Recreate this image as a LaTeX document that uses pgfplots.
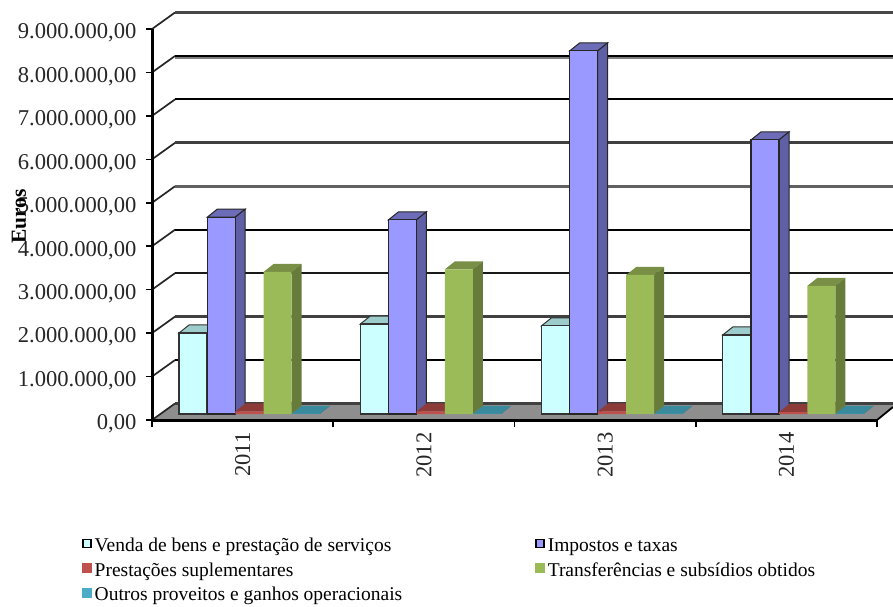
\documentclass[border=0pt]{standalone}
\usepackage{fontspec}
\setmainfont{Liberation Serif}
\usepackage{pgfplots}
\usepackage{pgfplotstable}
\pgfplotsset{compat=1.18}

\definecolor{vendaF}{HTML}{CCFFFF}\definecolor{vendaT}{HTML}{9CCCCC}\definecolor{vendaS}{HTML}{7FA6A6}
\definecolor{impF}{HTML}{9999FF}\definecolor{impT}{HTML}{6C6CB8}\definecolor{impS}{HTML}{5F5FA6}
\definecolor{presF}{HTML}{C0504D}\definecolor{presT}{HTML}{8C3B39}\definecolor{presS}{HTML}{7A3331}
\definecolor{trfF}{HTML}{9BBB59}\definecolor{trfT}{HTML}{788F45}\definecolor{trfS}{HTML}{677C3B}
\definecolor{outF}{HTML}{4BACC6}\definecolor{outT}{HTML}{3A8A9E}\definecolor{outS}{HTML}{2F7385}
\definecolor{piso}{HTML}{8E8E8E}

% one row per year, x is the group index
\pgfplotstableread{
x venda impostos prestacoes transferencias outros
0 1865000 4530000 60000 3270000 5000
1 2070000 4470000 60000 3330000 5000
2 2030000 8360000 60000 3200000 5000
3 1820000 6310000 45000 2950000 5000
}\dados

% depth of a bar: 10 px across, 8 px up
\newcommand\caixas[5]{% column, bar number, top colour, side colour, edge
  \pgfplotsforeachungrouped \g in {0,1,2,3}{%
    \pgfplotstablegetelem{\g}{#1}\of\dados
    \let\v\pgfplotsretval
    \pgfmathsetmacro\xa{\g+(27+28.2*#2)/181.25}%
    \pgfmathsetmacro\xb{\xa+0.1545}%
    \pgfmathsetmacro\xc{\xa+0.0552}%
    \pgfmathsetmacro\xd{\xb+0.0552}%
    \edef\vb{\the\numexpr\v+184000\relax}%
    \edef\tmp{\noexpand\addplot[forget plot,yshift=6pt,fill=#3,draw=#5,line width=1pt]
      coordinates {(\xa,\v) (\xc,\vb) (\xd,\vb) (\xb,\v)} --cycle;
      \noexpand\addplot[forget plot,yshift=6pt,fill=#4,draw=#5,line width=1pt]
      coordinates {(\xb,0) (\xd,184000) (\xd,\vb) (\xb,\v)} --cycle;}%
    \tmp
  }%
}
% back wall line with its slanted piece on the side wall
\newcommand\parede[3]{%
  \edef\tmp{\noexpand\addplot[forget plot,black!85,line width=1.7pt]
    coordinates {(0,#1) (0.127,\the\numexpr#1+380000\relax)};
    \noexpand\addplot[forget plot,#2,line width=#3]
    coordinates {(0.127,\the\numexpr#1+380000\relax) (4.088,\the\numexpr#1+380000\relax)};}%
  \tmp
}

\begin{document}
\begin{tikzpicture}[x=1pt,y=1pt]
\useasboundingbox (0,0) rectangle (893,606);
\begin{axis}[
    at={(152pt,186pt)}, anchor=south west,
    scale only axis, width=741pt, height=407pt,
    xmin=0, xmax=4.088, ymin=0, ymax=9369000,
    clip=false,
    axis line style={draw=none},
    tick align=outside, xtick pos=lower, ytick pos=left,
    major tick length=6pt, minor tick length=7pt,
    ytick={0,1000000,...,9000000},
    scaled y ticks=false,
    yticklabel style={/pgf/number format/.cd,fixed,fixed zerofill,precision=2,use comma,1000 sep={.},assume math mode=true,/tikz/.cd,xshift=-6pt,yshift=-4pt},
    ytick style={draw=black,line width=1.6pt},
    xtick={0.5,1.5,2.5,3.5},
    xticklabels={2011,2012,2013,2014},
    xtick style={draw=none},
    minor xtick={0,1,2,3,4},
    minor x tick style={draw=black,line width=1.6pt},
    xticklabel style={yshift=-3pt,rotate=90,anchor=east},
    tick label style={font=\fontsize{22.6}{24}\selectfont,text=black!85},
    ylabel={\textbf{Euros}},
    every axis y label/.style={at={(axis description cs:-0.1795,0.5)},rotate=90,anchor=center,font=\fontsize{21.5}{24}\selectfont},
    legend columns=2,
    legend style={
        at={(axis description cs:-0.0945,-0.2845)}, anchor=north west,
        draw=none, fill=none, inner sep=0pt,
        font=\fontsize{19.5}{22}\selectfont,
        /tikz/every odd column/.append style={column sep=0.5pt},
        /tikz/column 2/.style={column sep=131pt},
        /tikz/row sep=5.5pt,
    },
    legend cell align=left,
]
% floor
\addplot[forget plot,fill=piso,draw=none] coordinates {(0,0) (0.127,380000) (4.088,380000) (4.088,300000) (4,0)} --cycle;
% walls
\parede{9000000}{black!72}{3pt}
\addplot[forget plot,black!50,line width=2pt,yshift=-2.5pt] coordinates {(0.127,8380000) (4.088,8380000)};
\parede{8000000}{black}{2pt}
\parede{7000000}{black}{2pt}
\parede{6000000}{black!75}{3pt}
\parede{5000000}{black!62}{3pt}
\parede{4000000}{black}{2pt}
\parede{3000000}{black!90}{2.4pt}
\parede{2000000}{black!75}{3pt}
\parede{1000000}{black}{2pt}
\parede{0}{black!75}{3pt}
% front edges of the axes
\addplot[forget plot,black,line width=3pt] coordinates {(0,9000000) (0,0) (4,0)};
\addplot[forget plot,black,line width=1.8pt] coordinates {(4,0) (4.088,300000)};
% bars, left to right
\caixas{venda}{0}{vendaT}{vendaS}{black!80}
\addplot[ybar,yshift=6pt,bar width=28pt,bar shift=41pt,fill=vendaF,draw=black!80,line width=1.2pt,
    legend image code/.code={\draw[fill=vendaF,draw=black,line width=1.6pt] (1pt,-8pt) rectangle (9pt,0pt);}] table[x=x,y=venda]{\dados};
\addlegendentry{Venda de bens e prestação de serviços}
\caixas{impostos}{1}{impT}{impS}{black!85}
\addplot[ybar,yshift=6pt,bar width=28pt,bar shift=69.2pt,fill=impF,draw=black!85,line width=1.2pt,
    legend image code/.code={\draw[fill=impF,draw=black,line width=1.6pt] (1pt,-8pt) rectangle (9pt,0pt);}] table[x=x,y=impostos]{\dados};
\addlegendentry{Impostos e taxas}
\caixas{prestacoes}{2}{presT}{presS}{none}
\addplot[ybar,yshift=6pt,bar width=28pt,bar shift=97.4pt,fill=presF,draw=none,
    legend image code/.code={\fill[presF] (0pt,-9pt) rectangle (10pt,1pt);}] table[x=x,y=prestacoes]{\dados};
\addlegendentry{Prestações suplementares}
\caixas{transferencias}{3}{trfT}{trfS}{none}
\addplot[ybar,yshift=6pt,bar width=28pt,bar shift=125.6pt,fill=trfF,draw=none,
    legend image code/.code={\fill[trfF] (0pt,-9pt) rectangle (10pt,1pt);}] table[x=x,y=transferencias]{\dados};
\addlegendentry{Transferências e subsídios obtidos}
\caixas{outros}{4}{outT}{outS}{none}
\addplot[ybar,yshift=6pt,bar width=28pt,bar shift=153.8pt,fill=outF,draw=none,
    legend image code/.code={\fill[outF] (0pt,-9pt) rectangle (10pt,1pt);}] table[x=x,y=outros]{\dados};
\addlegendentry{Outros proveitos e ganhos operacionais}
\end{axis}
\end{tikzpicture}
\end{document}
